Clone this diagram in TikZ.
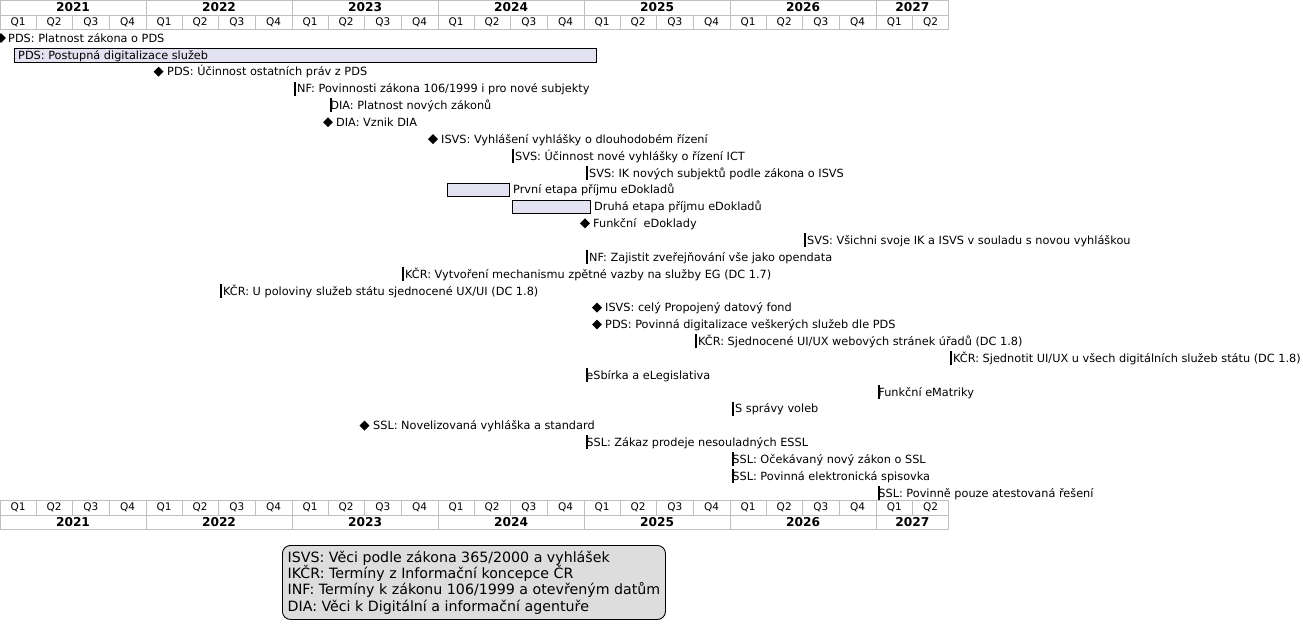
\documentclass[tikz,border=0pt]{standalone}
\usepackage{fontspec}
\setmainfont{DejaVu Sans}
\usetikzlibrary{shapes.geometric}
\definecolor{taskfill}{RGB}{226,226,240}
\definecolor{gridgray}{RGB}{192,192,192}
\definecolor{notegray}{RGB}{221,221,221}
\tikzset{
  yearlabel/.style={font=\fontsize{12.2}{14}\selectfont\bfseries,inner sep=0pt},
  quarterlabel/.style={font=\fontsize{10.5}{12}\selectfont,inner sep=0pt},
  gridline/.style={draw=gridgray,line width=1pt},
  tasklabel/.style={font=\fontsize{11.3}{13}\selectfont,inner sep=0pt,anchor=west,
    text height=9.5pt,text depth=1pt},
  taskbar/.style={draw=black,fill=taskfill,line width=0.9pt},
  milestone/.style={diamond,fill=black,inner sep=0pt,minimum width=10pt,minimum height=10pt},
  tickbar/.style={line width=2.2pt,black},
}

\begin{document}
\begin{tikzpicture}[x=1pt,y=-1pt]
\useasboundingbox[fill=white] (0,0) rectangle (1303,633);
% time scale, top and bottom
\foreach \yx/\yl in {0/2021,146/2022,292/2023,438/2024,584/2025,730/2026}{
  \node[yearlabel] (yt\yl) at (\yx+73,7.5) {\yl};
  \node[yearlabel] (yb\yl) at (\yx+73,522.5) {\yl};
  \foreach \qc/\ql in {18/Q1,54.2/Q2,90.8/Q3,127.6/Q4}{
    \node[quarterlabel] (qt\yl\ql) at (\yx+\qc,22) {\ql};
    \node[quarterlabel] (qb\yl\ql) at (\yx+\qc,507.5) {\ql};}
  \foreach \qx in {36,72.4,109.2}{
    \draw[gridline] (\yx+\qx,15) -- (\yx+\qx,29);
    \draw[gridline] (\yx+\qx,500) -- (\yx+\qx,515);}
}
\node[yearlabel] (yt2027) at (912.4,7.5) {2027};
\node[yearlabel] (yb2027) at (912.4,522.5) {2027};
\foreach \qc/\ql in {894.4/Q1,930.6/Q2}{
  \node[quarterlabel] (qt2027\ql) at (\qc,22) {\ql};
  \node[quarterlabel] (qb2027\ql) at (\qc,507.5) {\ql};}
\draw[gridline] (912.4,15) -- (912.4,29);
\draw[gridline] (912.4,500) -- (912.4,515);
\foreach \yx in {0.5,146,292,438,584.4,730.4,876.4,948.3}{
  \draw[gridline] (\yx,0) -- (\yx,29);
  \draw[gridline] (\yx,500) -- (\yx,530);}
\foreach \hy in {0.5,15,29,500,515,529.5}
  \draw[gridline] (0,\hy) -- (948.8,\hy);
% tasks
\node[milestone] (m1) at (1,38) {};
\node[tasklabel] (t1) at (8,38) {PDS: Platnost zákona o PDS};
\draw[taskbar] (14,48) rectangle (596,62);
\node[tasklabel] (t2) at (18,54.9) {PDS: Postupná digitalizace služeb};
\node[milestone] (m3) at (158.6,71.7) {};
\node[tasklabel] (t3) at (167,71.7) {PDS: Účinnost ostatních práv z PDS};
\node[tasklabel] (t4) at (293.6,88.6) {INF: Povinnosti zákona 106/1999 i pro nové subjekty};
\draw[tickbar] (295,81.6) -- (295,95.6);
\node[tasklabel] (t5) at (330.2,105.4) {DIA: Platnost nových zákonů};
\draw[tickbar] (331,98.4) -- (331,112.4);
\node[milestone] (m6) at (328,122.3) {};
\node[tasklabel] (t6) at (336,122.3) {DIA: Vznik DIA};
\node[milestone] (m7) at (433,139.1) {};
\node[tasklabel] (t7) at (441,139.1) {ISVS: Vyhlášení vyhlášky o dlouhodobém řízení};
\node[tasklabel] (t8) at (511.6,156) {ISVS: Účinnost nové vyhlášky o řízení ICT};
\draw[tickbar] (513,149) -- (513,163);
\node[tasklabel] (t9) at (585.6,172.8) {ISVS: IK nových subjektů podle zákona o ISVS};
\draw[tickbar] (587,165.8) -- (587,179.8);
\draw[taskbar] (447,183.2) rectangle (509,196.2);
\node[tasklabel] (t10) at (513,189.7) {První etapa příjmu eDokladů};
\draw[taskbar] (512,200) rectangle (590,213);
\node[tasklabel] (t11) at (594,206.5) {Druhá etapa příjmu eDokladů};
\node[milestone] (m12) at (585,223.4) {};
\node[tasklabel] (t12) at (593,223.4) {Funkční\ \ eDoklady};
\node[tasklabel] (t13) at (803.6,240.2) {ISVS: Všichni svoje IK a ISVS v souladu s novou vyhláškou};
\draw[tickbar] (805,233.2) -- (805,247.2);
\node[tasklabel] (t14) at (585.6,257.1) {INF: Zajistit zveřejňování vše jako opendata};
\draw[tickbar] (587,250.1) -- (587,264.1);
\node[tasklabel] (t15) at (401.6,273.9) {IKČR: Vytvoření mechanismu zpětné vazby na služby EG (DC 1.7)};
\draw[tickbar] (403,266.9) -- (403,280.9);
\node[tasklabel] (t16) at (219.6,290.8) {IKČR: U poloviny služeb státu sjednocené UX/UI (DC 1.8)};
\draw[tickbar] (221,283.8) -- (221,297.8);
\node[milestone] (m17) at (597,307.6) {};
\node[tasklabel] (t17) at (605,307.6) {ISVS: celý Propojený datový fond};
\node[milestone] (m18) at (597,324.5) {};
\node[tasklabel] (t18) at (605,324.5) {PDS: Povinná digitalizace veškerých služeb dle PDS};
\node[tasklabel] (t19) at (694.6,341.3) {IKČR: Sjednocené UI/UX webových stránek úřadů (DC 1.8)};
\draw[tickbar] (696,334.3) -- (696,348.3);
\node[tasklabel] (t20) at (949.6,358.2) {IKČR: Sjednotit UI/UX u všech digitálních služeb státu (DC 1.8)};
\draw[tickbar] (951,351.2) -- (951,365.2);
\node[tasklabel] (t21) at (586.2,375) {eSbírka a eLegislativa};
\draw[tickbar] (587,368) -- (587,382);
\node[tasklabel] (t22) at (878.2,391.9) {Funkční eMatriky};
\draw[tickbar] (879,384.9) -- (879,398.9);
\node[tasklabel] (t23) at (731.6,408.7) {IS správy voleb};
\draw[tickbar] (733,401.7) -- (733,415.7);
\node[milestone] (m24) at (364.5,425.6) {};
\node[tasklabel] (t24) at (373,425.6) {SSL: Novelizovaná vyhláška a standard};
\node[tasklabel] (t25) at (586.2,442.4) {SSL: Zákaz prodeje nesouladných ESSL};
\draw[tickbar] (587,435.4) -- (587,449.4);
\node[tasklabel] (t26) at (732.2,459.3) {SSL: Očekávaný nový zákon o SSL};
\draw[tickbar] (733,452.3) -- (733,466.3);
\node[tasklabel] (t27) at (732.2,476.1) {SSL: Povinná elektronická spisovka};
\draw[tickbar] (733,469.1) -- (733,483.1);
\node[tasklabel] (t28) at (878.2,493) {SSL: Povinně pouze atestovaná řešení};
\draw[tickbar] (879,486) -- (879,500);
% legend
\node[draw=black,fill=notegray,rounded corners=8pt,line width=0.9pt,anchor=north west,
  minimum width=383pt,minimum height=74pt,inner sep=0pt,
  align=left,font=\fontsize{14.2}{16.3}\selectfont] (legend) at (282,545)
  {ISVS: Věci podle zákona 365/2000 a vyhlášek\\
   IKČR: Termíny z Informační koncepce ČR\\
   INF: Termíny k zákonu 106/1999 a otevřeným datům\\
   DIA: Věci k Digitální a informační agentuře};
\end{tikzpicture}
\end{document}
